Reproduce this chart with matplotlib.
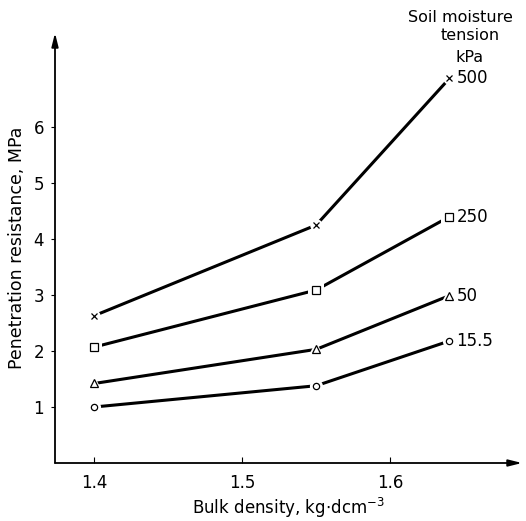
import matplotlib
matplotlib.use("Agg")
import matplotlib.pyplot as plt

# Data
bulk_density = [1.40, 1.55, 1.64]
tension_labels = ["500", "250", "50", "15.5"]
res_500 = [2.63, 4.25, 6.87]
res_250 = [2.07, 3.09, 4.40]
res_50 = [1.42, 2.03, 2.99]
res_15_5 = [1.00, 1.38, 2.18]
series = [res_500, res_250, res_50, res_15_5]
markers = ["x", "s", "^", "o"]
msizes = [4, 6, 6, 4.5]
x_ticks = [1.4, 1.5, 1.6]
y_ticks = [1, 2, 3, 4, 5, 6]

plt.rcParams['font.family'] = ['DejaVu Sans']
fig = plt.figure(figsize=(5.26, 5.21), dpi=100)
ax = fig.add_axes([55/526, 58/521, (522-55)/526, (463-33)/521])
ax.set_xlim(1.3736, 1.689)
ax.set_ylim(0, 7.68)

for s in ["top", "right", "left", "bottom"]:
    ax.spines[s].set_visible(False)

# axis arrows
ax.annotate("", xy=(0, 1), xytext=(0, 0), xycoords="axes fraction",
            arrowprops=dict(arrowstyle="-|>,head_length=0.8,head_width=0.2", color="black", lw=1.3,
                            shrinkA=0, shrinkB=0))
ax.annotate("", xy=(1, 0), xytext=(0, 0), xycoords="axes fraction",
            arrowprops=dict(arrowstyle="-|>,head_length=0.8,head_width=0.2", color="black", lw=1.3,
                            shrinkA=0, shrinkB=0))

for vals, m, ms, lab in zip(series, markers, msizes, tension_labels):
    ax.plot(bulk_density, vals, color="black", lw=2.2, zorder=2, solid_capstyle="butt")
    ax.plot(bulk_density, vals, ls="none", marker=m if m != "x" else "o", ms=ms + 5,
            mfc="white", mec="white", mew=0, zorder=3)
    ax.plot(bulk_density, vals, ls="none", marker=m, ms=ms, mfc="white", mec="black",
            mew=0.9, zorder=4)
    ax.annotate(lab, xy=(bulk_density[-1], vals[-1]), xytext=(5, 0),
                textcoords="offset points", ha="left", va="center", fontsize=12)

ax.set_xticks(x_ticks)
ax.set_xticklabels([f"{v:.1f}" for v in x_ticks])
ax.set_yticks(y_ticks)
ax.tick_params(axis="x", direction="in", length=4, width=0.8, labelsize=12, pad=8)
ax.tick_params(axis="y", direction="out", length=3, width=0.8, labelsize=12, pad=5)

ax.set_xlabel(r"Bulk density, kg$\cdot$dcm$^{-3}$", fontsize=12, labelpad=3)
ax.set_ylabel("Penetration resistance, MPa", fontsize=12.5, labelpad=5)

fig.text(460/526, 1 - 17/521, "Soil moisture", ha="center", va="center", fontsize=11.5)
fig.text(470/526, 1 - 36/521, "tension", ha="center", va="center", fontsize=11.5)
fig.text(470/526, 1 - 57/521, "kPa", ha="center", va="center", fontsize=11.5)

fig.savefig("out.png", dpi=100)
